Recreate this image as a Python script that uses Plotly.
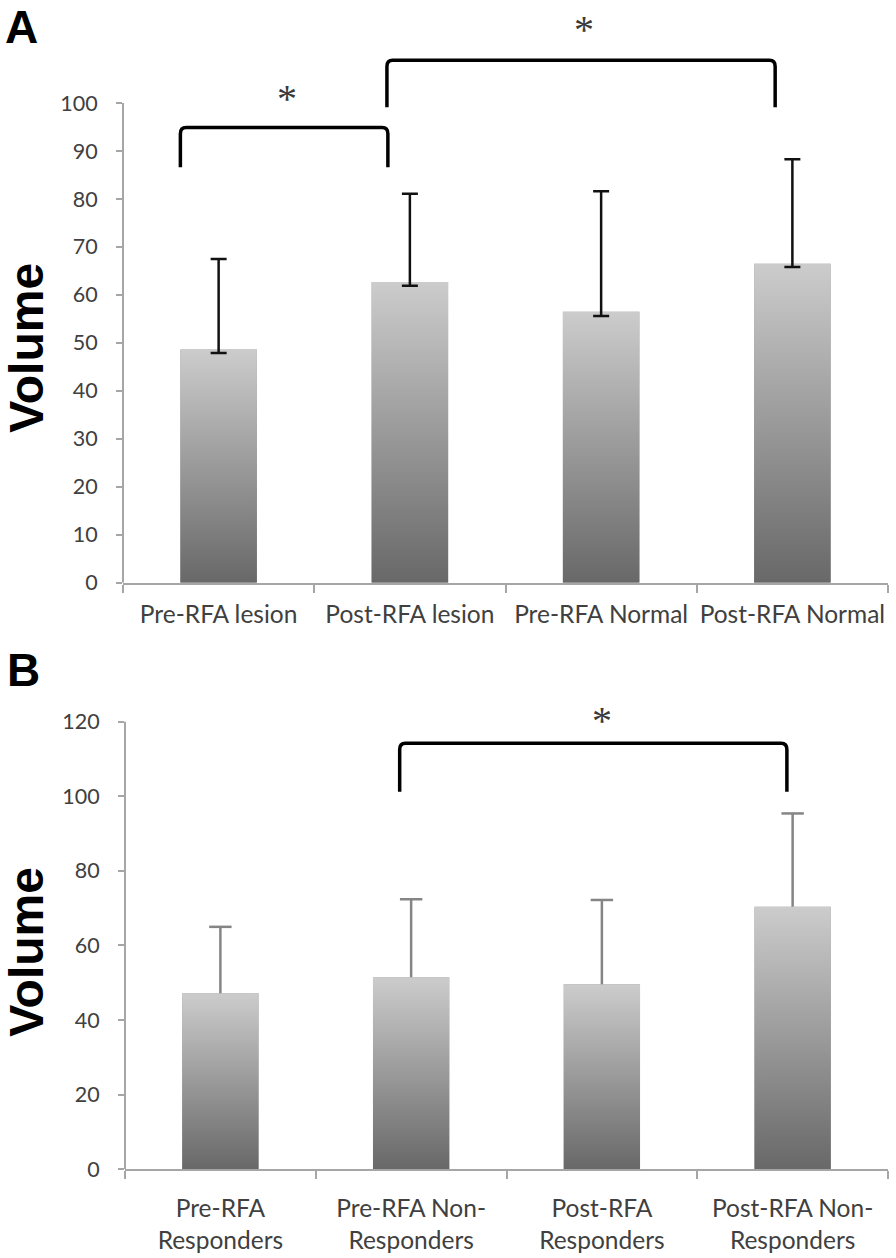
import plotly.graph_objects as go

# ---------------- data ----------------
cats_a = ["Pre-RFA lesion", "Post-RFA lesion", "Pre-RFA Normal", "Post-RFA Normal"]
mean_a = [48.6, 62.7, 56.5, 66.5]
err_plus_a = [18.9, 18.4, 25.1, 21.8]
err_minus_a = [0.7, 0.8, 0.9, 0.7]
yticks_a = [0, 10, 20, 30, 40, 50, 60, 70, 80, 90, 100]

cats_b = ["Pre-RFA<br>Responders", "Pre-RFA Non-<br>Responders",
          "Post-RFA<br>Responders", "Post-RFA Non-<br>Responders"]
mean_b = [47.2, 51.5, 49.6, 70.4]
err_plus_b = [17.8, 20.9, 22.6, 25.0]
yticks_b = [0, 20, 40, 60, 80, 100, 120]

# significance brackets: (x left, x right, leg bottom, bracket top, star x, star y)
brackets_a = [(-0.2, 0.885, 86.6, 94.9, 0.36, 101.0),
              (0.88, 2.91, 99.1, 108.9, 1.91, 115.3)]
brackets_b = [(0.94, 2.97, 101.2, 114.2, 2.0, 120.4)]

# ---------------- style ----------------
BAR_W = 0.4
GRAD = [[0, "#686868"], [1, "#cccccc"]]
AXIS_COL = "#a6a6a6"
XTICK_FONT = dict(family="Lato", size=24.5, color="#404040")
YTICK_FONT = dict(family="Lato", size=21.5, color="#404040")

fig = go.Figure()


def add_panel(cats, means, plus, minus, xa, ya, err_col, lower_cap):
    idx = list(range(len(cats)))
    fig.add_trace(go.Bar(x=idx, y=means, width=BAR_W, marker_color="#9a9a9a",
                         marker_line_width=0, xaxis=xa, yaxis=ya, showlegend=False))
    # gradient fill of each bar
    for i, v in zip(idx, means):
        fig.add_trace(go.Scatter(
            x=[i - BAR_W / 2, i - BAR_W / 2, i + BAR_W / 2, i + BAR_W / 2, i - BAR_W / 2],
            y=[0, v, v, 0, 0], mode="lines", line=dict(width=0),
            fill="toself", fillgradient=dict(type="vertical", colorscale=GRAD),
            xaxis=xa, yaxis=ya, showlegend=False, hoverinfo="skip"))
    if lower_cap:
        fig.add_trace(go.Scatter(
            x=idx, y=means, mode="markers",
            marker=dict(size=1, color="rgba(0,0,0,0)"),
            error_y=dict(type="data", symmetric=False, array=plus,
                         arrayminus=minus, color=err_col, thickness=2.5, width=8),
            xaxis=xa, yaxis=ya, showlegend=False, hoverinfo="skip"))
    else:
        sx, sy = [], []
        for i, m, p in zip(idx, means, plus):
            sx += [i, i, None]
            sy += [m, m + p, None]
        fig.add_trace(go.Scatter(x=sx, y=sy, mode="lines",
                                 line=dict(color=err_col, width=2.5),
                                 xaxis=xa, yaxis=ya, showlegend=False, hoverinfo="skip"))
        fig.add_trace(go.Scatter(x=idx, y=[m + p for m, p in zip(means, plus)],
                                 mode="markers",
                                 marker=dict(symbol="line-ew", size=16,
                                             line=dict(color=err_col, width=2.5)),
                                 xaxis=xa, yaxis=ya, showlegend=False, hoverinfo="skip"))


add_panel(cats_a, mean_a, err_plus_a, err_minus_a, "x", "y", "#111111", True)
add_panel(cats_b, mean_b, err_plus_b, None, "x2", "y2", "#858585", False)


def bracket_path(x0, x1, yb, yt, rx, ry):
    return (f"M {x0},{yb} L {x0},{yt - ry} Q {x0},{yt} {x0 + rx},{yt} "
            f"L {x1 - rx},{yt} Q {x1},{yt} {x1},{yt - ry} L {x1},{yb}")


shapes = []
annotations = []
for (x0, x1, yb, yt, sx, sy), xr, yr, ry in (
        [(b, "x", "y", 1.3) for b in brackets_a] + [(b, "x2", "y2", 1.7) for b in brackets_b]):
    shapes.append(dict(type="path", xref=xr, yref=yr,
                       path=bracket_path(x0, x1, yb, yt, 0.03, ry),
                       line=dict(color="black", width=3.5)))
    annotations.append(dict(x=sx, y=sy, xref=xr, yref=yr, text="*", showarrow=False,
                            font=dict(family="Liberation Serif", size=40, color="#3a3a3a"),
                            xanchor="center", yanchor="middle"))

# y-axis lines only up to the last tick
shapes.append(dict(type="line", xref="x domain", yref="y", x0=0, x1=0, y0=0, y1=100,
                   line=dict(color=AXIS_COL, width=2)))
shapes.append(dict(type="line", xref="x2 domain", yref="y2", x0=0, x1=0, y0=0, y1=120,
                   line=dict(color=AXIS_COL, width=2)))

for txt, yv, yr in (("Volume", 49, "y"), ("Volume", 58.3, "y2")):
    annotations.append(dict(x=27 / 896, xref="paper", y=yv, yref=yr, text=f"<b>{txt}</b>",
                            textangle=-90, showarrow=False, xanchor="center", yanchor="middle",
                            borderpad=0,
                            font=dict(family="Liberation Sans", size=48, color="black")))

for txt, xp, yp in (("A", 4 / 896, 1.0), ("B", 6 / 896, 1 - 643 / 1258)):
    annotations.append(dict(x=xp, xref="paper", y=yp, yref="paper", text=f"<b>{txt}</b>",
                            showarrow=False, xanchor="left", yanchor="top", borderpad=0,
                            font=dict(family="Liberation Sans", size=46, color="black")))


def xaxis(domain, cats, anchor, standoff):
    return dict(domain=domain, range=[-0.5, 3.5], tickmode="array",
                tickvals=list(range(len(cats))), ticktext=cats, ticks="",
                showline=True, linecolor=AXIS_COL, linewidth=2, showgrid=False,
                zeroline=False, tickfont=XTICK_FONT, anchor=anchor, automargin=False,
                minor=dict(tickmode="array", tickvals=[-0.5, 0.5, 1.5, 2.5, 3.5],
                           ticks="outside", ticklen=8, tickcolor=AXIS_COL, tickwidth=2),
                ticklabelstandoff=standoff, fixedrange=True)


def yaxis(domain, rng, tickv, anchor):
    return dict(domain=domain, range=rng, tickmode="array", tickvals=tickv,
                ticks="outside", ticklen=6, tickcolor=AXIS_COL, tickwidth=2,
                showline=False, showgrid=False, zeroline=False, tickfont=YTICK_FONT,
                anchor=anchor, ticklabelstandoff=14, automargin=False, fixedrange=True)


fig.update_layout(
    template="none",
    width=896, height=1258, margin=dict(l=0, r=0, t=0, b=0, pad=0),
    paper_bgcolor="white", plot_bgcolor="white", showlegend=False,
    xaxis=xaxis([123 / 896, 888 / 896], cats_a, "y", 9),
    yaxis=yaxis([1 - 582.7 / 1258, 1 - 16.7 / 1258], [0, 118], yticks_a, "x"),
    xaxis2=xaxis([125 / 896, 888 / 896], cats_b, "y2", 16),
    yaxis2=yaxis([1 - 1169.3 / 1258, 1 - 699.3 / 1258], [0, 126], yticks_b, "x2"),
    shapes=shapes, annotations=annotations,
)

fig.write_html("out.html", config={"displayModeBar": False},
               post_script="document.body.style.margin='0px';")
